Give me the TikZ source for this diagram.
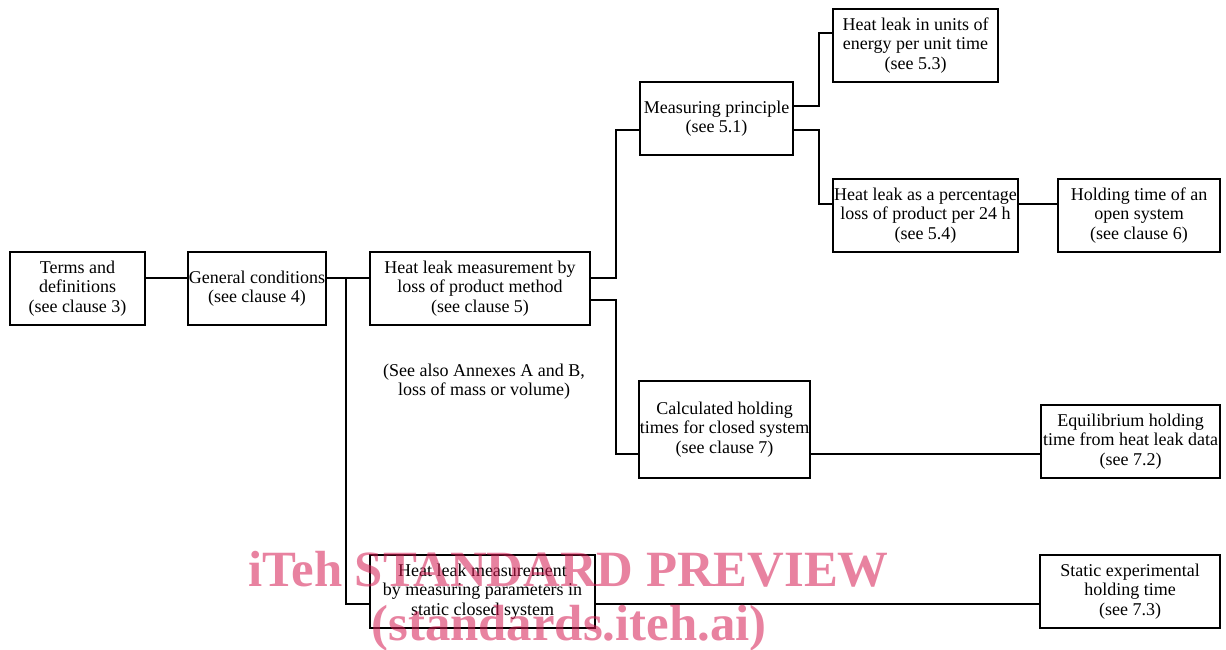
\documentclass[tikz,border=0pt]{standalone}
\usepackage{fontspec}
\setmainfont{Liberation Serif}
\usetikzlibrary{positioning,backgrounds}
\definecolor{stampred}{RGB}{213,28,82}
\tikzset{
  block/.style={draw, line width=2pt, fill=white, align=center, inner sep=1pt,
    minimum height=73pt, font=\fontsize{18}{19.5}\selectfont},
  link/.style={line width=2pt},
  stamp/.style={text=stampred, text opacity=0.55, anchor=base,
    font=\fontsize{50.8}{52}\selectfont\bfseries}
}

\begin{document}
\begin{tikzpicture}[x=1pt,y=-1pt]

\useasboundingbox (0,0) rectangle (1226,650);

\node[block, minimum width=135pt] (terms) at (77.5,288.5) {Terms and\\definitions\\(see clause 3)};
\node[block, minimum width=134pt] (general) at (257,288.5) {General conditions\\(see clause 4)};
\node[block, minimum width=220pt] (lossbox) at (480,288.5) {Heat leak measurement by\\loss of product method\\(see clause 5)};
\node[block, minimum width=153pt] (principle) at (716.5,118.5) {Measuring principle\\(see 5.1)};
\node[block, minimum width=165pt] (units) at (915.5,45.5) {Heat leak in units of\\energy per unit time\\(see 5.3)};
\node[block, minimum width=185pt] (percent) at (925.5,215.5) {Heat leak as a percentage\\loss of product per 24 h\\(see 5.4)};
\node[block, minimum width=162pt] (open) at (1139,215.5) {Holding time of an\\open system\\(see clause 6)};
\node[block, minimum width=169pt, minimum height=97pt] (calc) at (724.5,429.5) {Calculated holding\\times for closed system\\(see clause 7)};
\node[block, minimum width=179pt] (equil) at (1130.5,441.5) {Equilibrium holding\\time from heat leak data\\(see 7.2)};
\node[block, minimum width=225pt] (params) at (482.5,591.5) {Heat leak measurement\\by measuring parameters in\\static closed system};
\node[block, minimum width=180pt] (static) at (1130,591.5) {Static experimental\\holding time\\(see 7.3)};

\node[align=center, font=\fontsize{18}{19.5}\selectfont] (annex) at (484,381.5) {(See also Annexes A and B,\\loss of mass or volume)};

\coordinate (split) at (346,277);

\draw[link] ([yshift=11pt]terms.east) -- ([yshift=11pt]general.west);
\draw[link] ([yshift=11pt]general.east) -- ([yshift=11pt]lossbox.west);
\begin{pgfonlayer}{background}
\draw[link] (split) |- ([yshift=-12.5pt]static.west);
\end{pgfonlayer}

\draw[link] ([yshift=11pt]lossbox.east) -- ++(25,0) |- ([yshift=-11.5pt]principle.west);
\draw[link] ([yshift=-11.5pt]lossbox.east) -- ++(25,0) |- ([yshift=-24.5pt]calc.west);
\draw[link] ([yshift=-24.5pt]calc.east) -- ([yshift=-12.5pt]equil.west);

\draw[link] ([yshift=12.5pt]principle.east) -- ++(25,0) |- ([yshift=12.5pt]units.west);
\draw[link] ([yshift=-11.5pt]principle.east) -- ++(25,0) |- ([yshift=11.5pt]percent.west);
\draw[link] ([yshift=11.5pt]percent.east) -- ([yshift=11.5pt]open.west);

% watermark
\node[stamp] (wmtop) at (568.5,586) {iTeh STANDARD PREVIEW};
\node[stamp] (wmbottom) at (569,640) {(standards.iteh.ai)};

\end{tikzpicture}
\end{document}
